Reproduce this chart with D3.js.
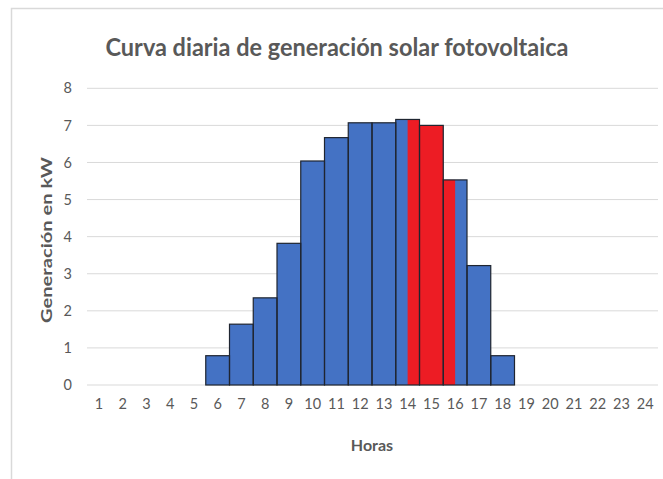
<!DOCTYPE html>
<html>
<head>
<meta charset="utf-8">
<script src="https://cdn.jsdelivr.net/npm/d3@7"></script>
<style>
  body { margin: 0; background: #fff; }
  text { font-family: Lato, "Open Sans", sans-serif; }
</style>
</head>
<body>
<script>
// horas del dia y generacion (kW)
var hours = d3.range(1, 25);
var generation = [0, 0, 0, 0, 0, 0.79, 1.64, 2.35, 3.82, 6.04, 6.67, 7.07,
                  7.07, 7.16, 7.0, 5.53, 3.22, 0.79, 0, 0, 0, 0, 0, 0];
var yTicks = [0, 1, 2, 3, 4, 5, 6, 7, 8];
var highlight = [14, 16]; // franja en rojo

var width = 663, height = 479;
var svg = d3.select("body").append("svg")
    .attr("width", width)
    .attr("height", height);

// marco
svg.append("rect")
    .attr("x", 11.5).attr("y", 8.5)
    .attr("width", 700).attr("height", 500)
    .attr("fill", "none")
    .attr("stroke", "#d9d9d9")
    .attr("stroke-width", 1.5);

var x = d3.scaleBand().domain(hours).range([87, 657]).padding(0);
var xc = d3.scaleLinear().domain([0.5, 24.5]).range([87, 657]);
var y = d3.scaleLinear().domain([0, 8]).range([385, 88.3]);

// grid
svg.append("g").selectAll("line")
    .data(yTicks).enter().append("line")
    .attr("x1", 87).attr("x2", 658)
    .attr("y1", function(d) { return y(d); })
    .attr("y2", function(d) { return y(d); })
    .attr("stroke", "#d9d9d9")
    .attr("stroke-width", 1);

var data = hours.map(function(h, i) { return {h: h, v: generation[i]}; })
    .filter(function(d) { return d.v > 0; });

svg.append("clipPath").attr("id", "hl")
  .append("rect")
    .attr("x", xc(highlight[0]))
    .attr("width", xc(highlight[1]) - xc(highlight[0]))
    .attr("y", 0).attr("height", height);

var bars = svg.append("g");
bars.selectAll("rect.b")
    .data(data).enter().append("rect")
    .attr("class", "b")
    .attr("x", function(d) { return x(d.h); })
    .attr("width", x.bandwidth())
    .attr("y", function(d) { return y(d.v); })
    .attr("height", function(d) { return y(0) - y(d.v); })
    .attr("fill", "#4472c4");

bars.append("g").attr("clip-path", "url(#hl)")
  .selectAll("rect")
    .data(data).enter().append("rect")
    .attr("x", function(d) { return x(d.h); })
    .attr("width", x.bandwidth())
    .attr("y", function(d) { return y(d.v); })
    .attr("height", function(d) { return y(0) - y(d.v); })
    .attr("fill", "#ed1c24");

bars.selectAll("rect.o")
    .data(data).enter().append("rect")
    .attr("class", "o")
    .attr("x", function(d) { return x(d.h); })
    .attr("width", x.bandwidth())
    .attr("y", function(d) { return y(d.v); })
    .attr("height", function(d) { return y(0) - y(d.v); })
    .attr("fill", "none")
    .attr("stroke", "#1f2530")
    .attr("stroke-width", 1.2);

// ejes (solo etiquetas)
var xAxis = svg.append("g")
    .attr("transform", "translate(0,398)")
    .call(d3.axisBottom(x).tickSize(0).tickPadding(0));
xAxis.select(".domain").remove();
xAxis.selectAll("text")
    .attr("dy", "0.75em")
    .attr("font-size", 14.5)
    .attr("font-family", "Lato, sans-serif")
    .attr("fill", "#595959");

var yAxis = svg.append("g")
    .attr("transform", "translate(72,0)")
    .call(d3.axisLeft(y).tickValues(yTicks).tickSize(0).tickPadding(0));
yAxis.select(".domain").remove();
yAxis.selectAll("text")
    .attr("font-size", 14.5)
    .attr("font-family", "Lato, sans-serif")
    .attr("fill", "#595959");

// titulos
svg.append("text")
    .attr("x", 337).attr("y", 56)
    .attr("text-anchor", "middle")
    .attr("font-size", 25)
    .attr("font-weight", "bold")
    .attr("fill", "#595959")
    .attr("textLength", 463)
    .attr("lengthAdjust", "spacingAndGlyphs")
    .text("Curva diaria de generación solar fotovoltaica");

svg.append("text")
    .attr("x", 372).attr("y", 451)
    .attr("text-anchor", "middle")
    .attr("font-size", 16)
    .attr("font-weight", "bold")
    .attr("fill", "#595959")
    .text("Horas");

svg.append("text")
    .attr("transform", "translate(52,240) rotate(-90)")
    .attr("text-anchor", "middle")
    .attr("font-size", 15)
    .attr("font-weight", "bold")
    .attr("fill", "#595959")
    .attr("textLength", 166)
    .attr("lengthAdjust", "spacingAndGlyphs")
    .text("Generación  en kW");
</script>
</body>
</html>
